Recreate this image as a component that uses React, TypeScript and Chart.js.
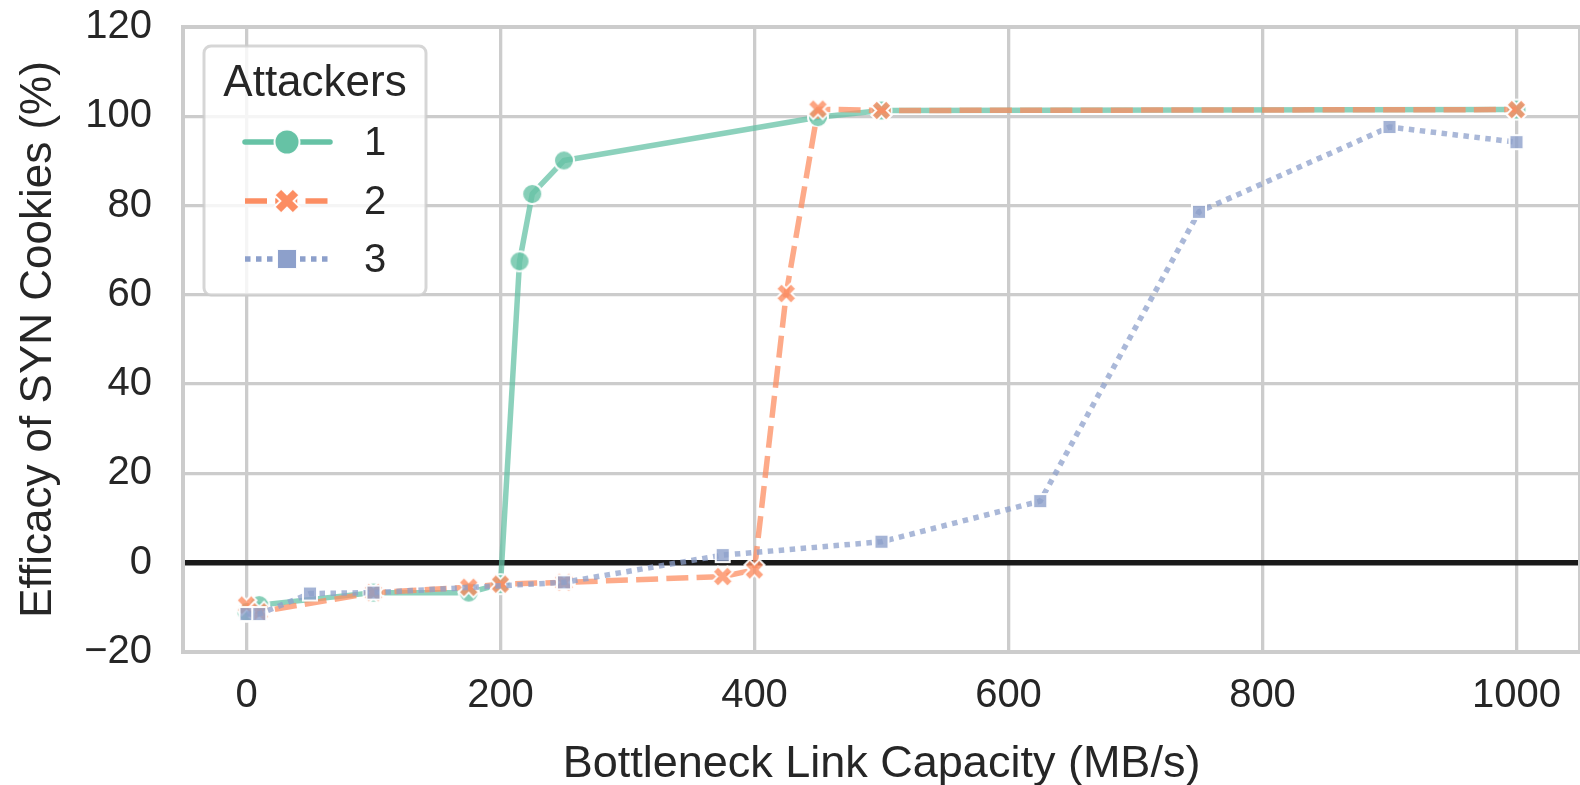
import React, { useEffect, useRef } from 'react';
import { Chart, registerables } from 'chart.js';
Chart.register(...registerables);

const X1 = [0, 10, 100, 175, 200, 215, 225, 250, 450, 500, 1000];
const Y1 = [-11, -9.5, -6.7, -6.7, -4.8, 67.5, 82.6, 90.1, 99.8, 101.3, 101.5];
const X2 = [0, 10, 100, 175, 200, 250, 375, 400, 425, 450, 500, 1000];
const Y2 = [-9.5, -11, -6.7, -5.5, -4.8, -4.4, -3.1, -1.6, 60.3, 101.6, 101.3, 101.5];
const X3 = [0, 10, 50, 100, 250, 375, 500, 625, 750, 900, 1000];
const Y3 = [-11.5, -11.5, -6.9, -6.7, -4.4, 1.7, 4.7, 13.8, 78.6, 97.6, 94.2];
const SERIES_LABELS = ['1', '2', '3'];
const X_TICKS = [0, 200, 400, 600, 800, 1000];
const Y_TICKS = [-20, 0, 20, 40, 60, 80, 100, 120];
const X_TITLE = 'Bottleneck Link Capacity (MB/s)';
const Y_TITLE = 'Efficacy of SYN Cookies (%)';
const LEGEND_TITLE = 'Attackers';

const GREEN = [102, 194, 165];
const ORANGE = [252, 141, 98];
const BLUE = [141, 160, 203];
const FONT = "'Liberation Sans', Arial, sans-serif";
const TEXT = '#262626';
const GRID = '#cccccc';
const LW = 5.5;

const rgba = (c: number[], a: number) => `rgba(${c[0]},${c[1]},${c[2]},${a})`;

function shapePath(g: CanvasRenderingContext2D, kind: string, r: number) {
  g.beginPath();
  if (kind === 'circle') {
    g.arc(0, 0, r, 0, Math.PI * 2);
  } else if (kind === 'square') {
    g.rect(-r, -r, 2 * r, 2 * r);
  } else {
    const L = r;
    const w = r * 0.36;
    const pts = [[-w, -L], [w, -L], [w, -w], [L, -w], [L, w], [w, w], [w, L], [-w, L], [-w, w], [-L, w], [-L, -w], [-w, -w]];
    const c = Math.cos(Math.PI / 4), s = Math.sin(Math.PI / 4);
    pts.forEach((p, i) => {
      const x = p[0] * c - p[1] * s;
      const y = p[0] * s + p[1] * c;
      if (i === 0) g.moveTo(x, y); else g.lineTo(x, y);
    });
    g.closePath();
  }
}

function drawMarker(g: CanvasRenderingContext2D, kind: string, r: number, color: string, edge: number) {
  shapePath(g, kind, r);
  g.fillStyle = color;
  g.fill();
  if (edge > 0) {
    g.lineWidth = edge;
    g.strokeStyle = 'rgba(255,255,255,0.95)';
    g.stroke();
  }
}

function markerCanvas(kind: string, r: number, color: string, edge: number) {
  const dim = Math.ceil(2 * r + 2 * edge + 4);
  const c = document.createElement('canvas');
  c.width = dim;
  c.height = dim;
  const g = c.getContext('2d')!;
  g.translate(dim / 2, dim / 2);
  drawMarker(g, kind, r, color, edge);
  return c;
}

const pts = (xs: number[], ys: number[]) => xs.map((x, i) => ({ x, y: ys[i] }));

export default function App() {
  const ref = useRef<HTMLCanvasElement>(null);
  useEffect(() => {
    document.body.style.margin = '0';
    const canvas = ref.current!;

    const overlay = {
      id: 'overlay',
      beforeDatasetsDraw(chart: any) {
        const { ctx, chartArea: a, scales } = chart;
        const y0 = scales.y.getPixelForValue(0);
        ctx.save();
        ctx.strokeStyle = '#1a1a1a';
        ctx.lineWidth = 5.5;
        ctx.beginPath();
        ctx.moveTo(a.left, y0);
        ctx.lineTo(a.right, y0);
        ctx.stroke();
        ctx.restore();
      },
      afterDatasetsDraw(chart: any) {
        const { ctx, chartArea: a } = chart;
        ctx.save();
        ctx.strokeStyle = GRID;
        ctx.lineWidth = 4;
        ctx.lineCap = 'square';
        ctx.beginPath();
        ctx.moveTo(a.left, a.top);
        ctx.lineTo(a.right, a.top);
        ctx.moveTo(a.left, a.top);
        ctx.lineTo(a.left, a.bottom);
        ctx.lineTo(a.right, a.bottom);
        ctx.lineTo(a.right, a.top);
        ctx.stroke();

        // legend
        const bx = 204, by = 46, bw = 222, bh = 249, rad = 7;
        ctx.beginPath();
        ctx.roundRect(bx, by, bw, bh, rad);
        ctx.fillStyle = 'rgba(255,255,255,0.8)';
        ctx.fill();
        ctx.lineWidth = 3;
        ctx.strokeStyle = 'rgba(204,204,204,0.8)';
        ctx.stroke();

        ctx.fillStyle = TEXT;
        ctx.textAlign = 'center';
        ctx.textBaseline = 'middle';
        ctx.font = `44px ${FONT}`;
        ctx.fillText(LEGEND_TITLE, bx + bw / 2, 84);

        const rows = [142, 201, 259];
        const cols = [GREEN, ORANGE, BLUE];
        const kinds = ['circle', 'x', 'square'];
        const dashes = [[], [22, 8.25], [5.5, 5.5]];
        const sizes = [12.5, 13, 10];
        rows.forEach((ry, i) => {
          ctx.save();
          ctx.strokeStyle = rgba(cols[i], 1);
          ctx.lineWidth = LW;
          ctx.lineCap = i === 0 ? 'round' : 'butt';
          ctx.setLineDash(dashes[i]);
          ctx.beginPath();
          ctx.moveTo(245, ry);
          ctx.lineTo(330, ry);
          ctx.stroke();
          ctx.setLineDash([]);
          ctx.translate(287, ry);
          drawMarker(ctx, kinds[i], sizes[i], rgba(cols[i], 1), 2);
          ctx.restore();
          ctx.fillStyle = TEXT;
          ctx.textAlign = 'left';
          ctx.textBaseline = 'middle';
          ctx.font = `40px ${FONT}`;
          ctx.fillText(SERIES_LABELS[i], 364, ry + 2);
        });
        ctx.restore();
      },
    };

    const mk = (label: string, xs: number[], ys: number[], col: number[], kind: string, r: number, dash: number[], order: number) => ({
      label,
      data: pts(xs, ys),
      borderColor: rgba(col, 0.75),
      backgroundColor: rgba(col, 0.75),
      borderWidth: LW,
      borderDash: dash,
      borderCapStyle: dash.length ? 'butt' : 'round',
      borderJoinStyle: 'round',
      pointStyle: markerCanvas(kind, r, rgba(col, 0.8), 2),
      pointRadius: r,
      tension: 0,
      fill: false,
      order,
    });

    const chart = new Chart(canvas, {
      type: 'line',
      data: {
        datasets: [
          mk(SERIES_LABELS[0], X1, Y1, GREEN, 'circle', 10, [], 2),
          mk(SERIES_LABELS[1], X2, Y2, ORANGE, 'x', 10.5, [22, 8.25], 1),
          mk(SERIES_LABELS[2], X3, Y3, BLUE, 'square', 7, [5.5, 5.5], 0),
        ] as any,
      },
      options: {
        responsive: false,
        animation: false,
        devicePixelRatio: 1,
        layout: { autoPadding: false, padding: { top: 27, left: 0, right: 0, bottom: 0 } },
        plugins: { legend: { display: false }, tooltip: { enabled: false } },
        scales: {
          x: {
            type: 'linear',
            min: -50,
            max: 1050,
            afterBuildTicks: (s: any) => { s.ticks = X_TICKS.map((v) => ({ value: v })); },
            afterFit: (s: any) => { s.height = 133; s.paddingLeft = 0; s.paddingRight = 0; },
            grid: { color: GRID, lineWidth: 3.3, drawTicks: false },
            border: { display: false },
            ticks: { font: { family: FONT, size: 40 }, color: TEXT, padding: 20, maxRotation: 0, autoSkip: false, callback: (v: any) => String(v) },
            title: { display: true, text: X_TITLE, font: { family: FONT, size: 45 }, color: TEXT, padding: { top: 0, bottom: -7 } },
          },
          y: {
            type: 'linear',
            min: -20,
            max: 120,
            afterBuildTicks: (s: any) => { s.ticks = Y_TICKS.map((v) => ({ value: v })); },
            afterFit: (s: any) => { s.width = 183; s.paddingTop = 0; s.paddingBottom = 0; },
            grid: { color: GRID, lineWidth: 3.3, drawTicks: false },
            border: { display: false },
            ticks: { font: { family: FONT, size: 40 }, color: TEXT, padding: 31, autoSkip: false, callback: (v: any) => (v < 0 ? '\u2212' + Math.abs(v) : String(v)) },
            title: { display: true, text: Y_TITLE, font: { family: FONT, size: 44 }, color: TEXT, padding: { top: 12, bottom: 0 } },
          },
        },
      } as any,
      plugins: [overlay],
    });
    return () => chart.destroy();
  }, []);
  return (
    <canvas
      ref={ref}
      width={1580}
      height={785}
      style={{ position: 'fixed', left: 0, top: 0, width: 1580, height: 785 }}
    />
  );
}
